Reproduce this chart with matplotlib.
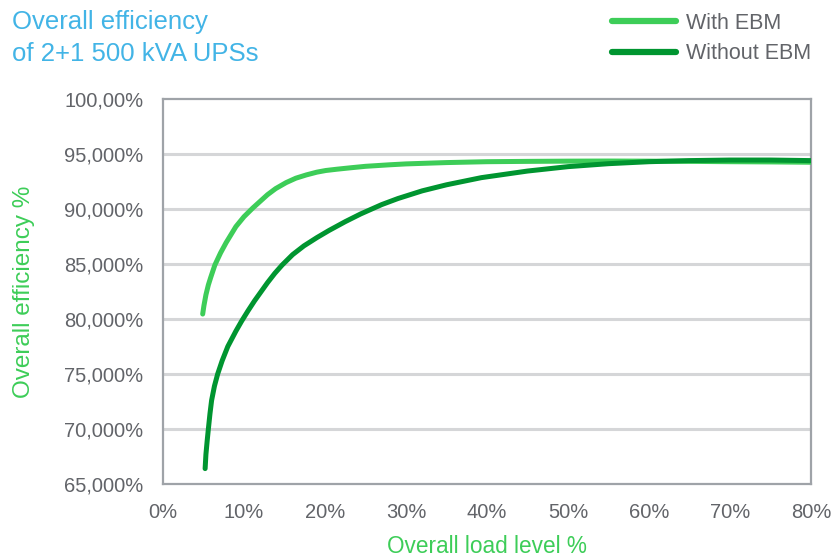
import matplotlib
matplotlib.use("Agg")
import matplotlib.pyplot as plt

# ---------------------------------------------------
# Data
# ---------------------------------------------------

with_ebm_load = [4.9, 5.05, 5.3, 5.6, 5.9, 6.4, 7.1, 7.8, 9.0, 10.0, 11.1, 12.9, 13.9,
                 15.2, 16.4, 17.7, 19.0, 20.1, 21.5, 23.2, 25.0, 28.0, 30.0, 35.0,
                 40.0, 45.0, 50.0, 55.0, 60.0, 65.0, 70.0, 75.0, 80.0]
with_ebm_eff = [80.45, 81.2, 82.2, 83.1, 83.8, 84.9, 86.0, 86.95, 88.4, 89.3, 90.1, 91.3, 91.85,
                92.4, 92.8, 93.1, 93.35, 93.5, 93.62, 93.75, 93.88, 94.02, 94.1, 94.22,
                94.3, 94.33, 94.35, 94.36, 94.35, 94.33, 94.3, 94.28, 94.25]

without_ebm_load = [5.2, 5.3, 5.45, 5.6, 5.8, 6.0, 6.35, 6.75, 7.3, 8.0, 9.0, 9.7, 10.5,
                    11.3, 12.9, 13.8, 14.7, 16.0, 17.4, 19.0, 20.5, 22.5, 24.4, 27.0,
                    29.0, 32.0, 35.0, 39.3, 45.0, 50.0, 55.0, 60.0, 65.0, 70.0, 75.0, 80.0]
without_ebm_eff = [66.4, 67.7, 68.9, 70.0, 71.4, 72.6, 73.9, 75.0, 76.2, 77.5, 78.9, 79.8, 80.75,
                   81.65, 83.3, 84.15, 84.9, 85.85, 86.65, 87.4, 88.05, 88.85, 89.55, 90.4,
                   90.95, 91.65, 92.2, 92.85, 93.45, 93.85, 94.12, 94.3, 94.4, 94.45, 94.45, 94.4]

x_ticks = [0, 10, 20, 30, 40, 50, 60, 70, 80]
x_tick_labels = ["0%", "10%", "20%", "30%", "40%", "50%", "60%", "70%", "80%"]
y_ticks = [65, 70, 75, 80, 85, 90, 95, 100]
y_tick_labels = ["65,000%", "70,000%", "75,000%", "80,000%",
                 "85,000%", "90,000%", "95,000%", "100,00%"]

# ---------------------------------------------------
# Style
# ---------------------------------------------------

plt.rcParams["font.family"] = ["Liberation Sans", "DejaVu Sans"]

light_green = "#3DCD58"
dark_green = "#009530"
title_blue = "#42B4E6"
text_grey = "#626469"
spine_grey = "#9FA3A8"
grid_grey = "#D5D6D8"

fig = plt.figure(figsize=(8.31, 5.59), dpi=100)
ax = fig.add_axes([163 / 831, 1 - 484 / 559, 648 / 831, 385 / 559])

ax.plot(with_ebm_load, with_ebm_eff, color=light_green, linewidth=3.6,
        solid_capstyle="round", solid_joinstyle="round", label="With EBM", zorder=3)
ax.plot(without_ebm_load, without_ebm_eff, color=dark_green, linewidth=3.6,
        solid_capstyle="round", solid_joinstyle="round", label="Without EBM", zorder=4)

ax.set_xlim(0, 80)
ax.set_ylim(65, 100)

ax.set_xticks(x_ticks)
ax.set_xticklabels(x_tick_labels)
ax.set_yticks(y_ticks)
ax.set_yticklabels(y_tick_labels)
ax.tick_params(axis="both", length=0, labelsize=14.5, colors=text_grey)
ax.tick_params(axis="x", pad=14)
ax.tick_params(axis="y", pad=14)

for y in y_ticks[1:-1]:
    ax.axhline(y, color=grid_grey, linewidth=2.2, zorder=1)

for spine in ax.spines.values():
    spine.set_color(spine_grey)
    spine.set_linewidth(1.6)

ax.set_xlabel("Overall load level %", fontsize=16.3, color=light_green, labelpad=9)
ax.set_ylabel("Overall efficiency %", fontsize=17.5, color=light_green, labelpad=21)

# Title, two lines
fig.text(12 / 831, 1 - 29 / 559, "Overall efficiency",
         fontsize=18.5, color=title_blue, va="baseline", ha="left")
fig.text(12 / 831, 1 - 61 / 559, "of 2+1 500 kVA UPSs",
         fontsize=18.5, color=title_blue, va="baseline", ha="left")

leg = fig.legend(loc="upper right", bbox_to_anchor=(822 / 831, 1 - 2 / 559),
                 frameon=False, fontsize=15.5, handlelength=3.0,
                 handletextpad=0.45, labelspacing=0.45, borderpad=0)
for t in leg.get_texts():
    t.set_color(text_grey)
for h in leg.get_lines():
    h.set_linewidth(4.5)
    h.set_solid_capstyle("round")

fig.savefig("out.png", dpi=100)
